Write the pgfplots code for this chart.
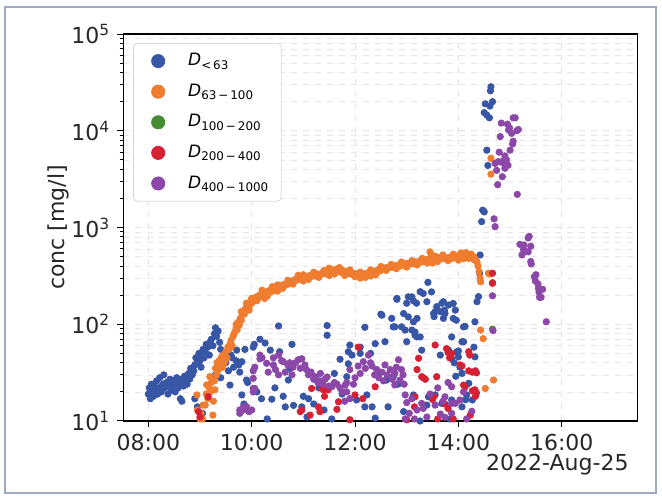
\documentclass[border=0pt]{standalone}
\usepackage{fontspec}
\setmainfont{DejaVu Sans}
\usepackage{pgfplots}
\pgfplotsset{compat=1.18}
\definecolor{cblue}{RGB}{56,86,166}
\definecolor{corange}{RGB}{240,124,48}
\definecolor{cgreen}{RGB}{70,140,50}
\definecolor{cred}{RGB}{214,32,52}
\definecolor{cpurple}{RGB}{140,72,168}
\definecolor{gridc}{RGB}{234,224,230}
\definecolor{framec}{RGB}{160,168,196}

\begin{document}
\begin{tikzpicture}
\path[use as bounding box] (0,0) rectangle (331pt,248.5pt);
\draw[framec, line width=0.7pt] (2.5pt,2pt) rectangle (328pt,245pt);
\begin{axis}[
    at={(61.65pt,38pt)}, anchor=south west,
    scale only axis, width=257.2pt, height=193.5pt,
    xmin=7.516, xmax=17.47,
    ymode=log, ymin=10, ymax=100000,
    xtick={8,10,12,14,16},
    xticklabels={08:00,10:00,12:00,14:00,16:00},
    ytick={10,100,1000,10000,100000},
    yticklabels={10\textsuperscript{1},10\textsuperscript{2},10\textsuperscript{3},10\textsuperscript{4},10\textsuperscript{5}},
    tick align=outside, xtick pos=left, ytick pos=left,
    major tick length=3pt, minor tick length=1.8pt,
    tick style={black, line width=0.5pt},
    axis line style={black, line width=0.6pt},
    xmajorgrids, ymajorgrids, yminorgrids,
    major grid style={gridc, dashed, line width=0.4pt},
    minor grid style={gridc!85, dashed, line width=0.3pt},
    tick label style={font=\fontsize{11}{13}\selectfont, text=black!85},
    ylabel={conc [mg/l]},
    ylabel style={at={(axis description cs:-0.127,0.5)}, anchor=center, font=\fontsize{11}{13}\selectfont, text=black!85},
    legend style={at={(0,1)}, anchor=north west, xshift=4.85pt, yshift=-4.5pt,
        draw={rgb,255:red,215;green,215;blue,215}, rounded corners=2pt,
        font=\fontsize{8.5}{10}\selectfont, row sep=3.6pt,
        inner xsep=4pt, inner ysep=3pt},
    legend cell align=left,
    legend image code/.code={\path (0pt,0pt) (21pt,0pt);
        \draw[#1, mark size=3.3pt] plot coordinates {(8.2pt,0pt)};},
    every axis plot/.append style={only marks, mark=*, mark size=1.6pt},
]
% D < 63
\addplot[cblue] coordinates {
(8.0,19) (8.02,22) (8.04,17) (8.06,24) (8.08,20) (8.1,18) (8.12,23) (8.14,21) (8.16,26) (8.18,19)
(8.2,22) (8.22,28) (8.25,20) (8.28,24) (8.3,30) (8.32,22) (8.35,25) (8.38,19) (8.4,23) (8.42,27)
(8.45,21) (8.48,26) (8.5,24) (8.52,20) (8.55,28) (8.58,22) (8.6,25) (8.62,17) (8.65,27) (8.68,23)
(8.7,29) (8.72,26) (8.75,24) (8.78,31) (8.8,27) (8.82,35) (8.85,30) (8.88,33) (8.9,38) (8.92,45)
(8.95,40) (8.98,50) (9.0,42) (9.02,36) (9.04,48) (9.06,55) (9.08,45) (9.1,52) (9.12,62) (9.15,58)
(9.18,48) (9.2,66) (9.22,70) (9.25,60) (9.28,80) (9.3,92) (9.32,75) (9.35,85) (9.38,65) (9.4,55)
(9.42,45) (8.65,16) (8.95,14) (9.05,12) (8.9,17) (9.3,30) (9.4,28)
(9.5,40) (9.55,33) (9.6,48) (9.62,45) (9.7,42) (9.75,38) (9.65,36) (9.58,23.5) (9.71,54) (9.81,18.6)
(9.85,15) (9.9,14) (9.92,25) (9.87,55) (9.81,41) (9.77,32) (9.9,26.5) (10.03,58) (10.05,62) (10.16,70)
(10.26,64) (10.36,54) (10.54,52) (10.52,96) (10.78,62) (10.1,20) (10.19,17) (10.39,16.8) (10.61,18) (10.81,14.5)
(11.0,18) (10.97,14) (10.3,10.5) (10.45,22) (10.65,14) (10.74,35) (10.71,26.5) (11.07,11) (11.46,97) (11.46,77)
(11.1,17) (11.2,15) (11.3,22) (11.4,13) (11.55,10.5) (11.6,31) (11.75,19) (11.71,43.5) (11.87,52) (11.84,28.7)
(11.87,39) (11.9,61) (11.94,48) (12.1,58) (12.1,50) (12.3,50) (12.19,93) (12.39,63) (12.58,66) (12.45,32)
(12.61,26.5) (12.19,14) (12.23,18.6) (12.33,14) (12.39,10.7) (12.03,16.5) (12.5,127) (12.52,124) (12.64,14) (12.71,115)
(12.74,28.7) (12.77,94) (12.74,94) (12.81,181) (12.81,185) (12.83,24) (12.9,94) (12.94,129) (12.94,12.5) (12.97,87)
(13.0,165) (13.0,66) (13.03,192) (13.03,119) (13.1,192) (13.1,87) (13.13,106) (13.13,175) (13.13,18.6) (13.16,77)
(13.16,83) (13.19,165) (13.2,74) (13.2,115) (13.26,217) (13.26,74) (13.26,10) (13.29,54) (13.32,208) (13.39,171)
(13.39,14.6) (13.41,271) (13.42,17.8) (13.48,216) (13.52,129) (13.53,120) (13.55,135) (13.55,18.6) (13.58,152) (13.65,135)
(13.65,48) (13.68,165) (13.68,15.2) (13.71,171) (13.71,115) (13.73,140) (13.74,129) (13.81,158) (13.81,54) (13.9,115)
(13.9,164) (13.94,140) (13.87,74) (13.87,44) (13.87,16.5) (13.84,10.5) (13.92,40) (13.95,29) (13.96,110) (13.97,52)
(14.0,53) (14.0,46) (14.03,36) (14.07,66) (14.07,31) (14.07,14) (14.1,94) (14.1,66) (14.13,95) (14.14,16.6)
(14.16,18.6) (14.2,24.5) (14.27,16.5) (14.3,58) (14.32,106) (14.32,46) (14.36,171) (14.39,193) (14.41,337) (14.42,520)
(14.45,1150) (14.47,1510) (14.5,1450) (14.5,15400) (14.52,19000) (14.55,14500) (14.55,6300) (14.57,4380) (14.6,13600) (14.61,18000)
(14.62,25900) (14.63,28500) (14.66,20000)
};
\addlegendentry{\textit{D}\textsubscript{<\,63}}
% D 63-100
\addplot[corange] coordinates {
(8.94,18.6) (8.95,13) (9.0,10.5) (9.02,12) (9.06,14.6) (9.1,14.6) (9.13,23.6) (9.15,17) (9.19,28.7) (9.2,20)
(9.22,25) (9.26,16) (9.29,21) (9.3,35) (9.32,30) (9.35,33.6) (9.37,42) (9.4,38) (9.42,46) (9.45,48)
(9.47,40) (9.5,52) (9.52,45) (9.54,58) (9.56,55) (9.58,62) (9.6,68) (9.62,60) (9.64,75) (9.66,80)
(9.68,84) (9.7,92) (9.72,88) (9.74,105) (9.76,98) (9.78,115) (9.8,110) (9.82,125) (9.84,135) (9.86,128)
(9.88,145) (9.9,150) (9.92,142) (9.94,160) (9.96,155) (9.98,170) (10.0,165) (10.03,180) (10.06,175) (10.09,192)
(10.12,185) (10.15,200) (10.18,195) (10.21,208) (10.24,200) (10.27,215) (10.3,210) (10.33,222) (10.36,215) (10.39,228)
(10.42,222) (10.45,235) (10.48,240) (10.51,232) (10.54,248) (10.57,242) (10.6,255) (10.63,250) (10.66,262) (10.69,258)
(10.72,270) (10.75,265) (10.78,280) (10.81,275) (10.84,290) (10.87,285) (10.9,298) (10.93,292) (10.96,305) (11.0,298)
(11.04,310) (11.08,305) (11.12,318) (11.16,312) (11.2,322) (11.24,315) (11.28,330) (11.32,325) (11.36,338) (11.4,332)
(11.44,345) (11.48,340) (11.52,355) (11.56,365) (11.6,350) (11.64,372) (11.68,358) (11.72,345) (11.76,360) (11.8,340)
(11.84,350) (11.88,335) (11.92,345) (11.96,325) (12.0,335) (12.04,318) (12.08,330) (12.12,312) (12.16,325) (12.2,335)
(12.24,322) (12.28,345) (12.32,338) (12.36,352) (12.4,345) (12.44,365) (12.48,355) (12.52,375) (12.56,368) (12.6,385)
(12.64,378) (12.68,395) (12.72,388) (12.76,402) (12.8,395) (12.84,410) (12.88,400) (12.92,418) (12.96,408) (13.0,425)
(13.04,415) (13.08,432) (13.12,422) (13.16,440) (13.2,430) (13.24,448) (13.28,438) (13.32,455) (13.36,445) (13.4,470)
(13.44,455) (13.48,520) (13.5,480) (13.54,462) (13.58,490) (13.62,470) (13.66,495) (13.7,478) (13.74,485) (13.78,468)
(13.82,492) (13.86,475) (13.9,500) (13.94,488) (13.98,510) (14.02,495) (14.06,515) (14.1,500) (14.14,520) (14.18,505)
(14.22,512) (14.26,490) (14.3,498) (14.33,470) (14.36,440) (14.38,400) (14.4,350) (14.42,300) (14.43,275)
(9.95,140) (10.25,185) (10.5,220) (11.0,280) (11.5,320) (12.1,300) (12.3,315) (13.0,390) (13.5,430) (14.0,460)
(9.6,58) (9.7,100) (9.8,135) (9.9,165) (10.0,185) (10.1,175) (10.2,225) (10.3,195) (10.4,245) (10.5,255)
(10.6,235) (10.7,285) (10.8,260) (10.9,320) (11.0,325) (11.1,290) (11.2,345) (11.3,305) (11.4,360) (11.5,380)
(11.6,330) (11.7,385) (11.8,320) (11.9,365) (12.0,310) (12.1,345) (12.2,305) (12.3,365) (12.4,325) (12.5,395)
(12.6,360) (12.7,415) (12.8,375) (12.9,440) (13.0,400) (13.1,455) (13.2,410) (13.3,480) (13.4,430) (13.45,560)
(13.55,505) (13.6,445) (13.7,520) (13.8,455) (13.9,530) (14.0,475) (14.05,545) (14.1,475) (14.15,550) (14.2,480)
(14.25,530) (14.3,465) (9.28,26) (9.33,40) (9.44,36) (9.5,44) (9.18,22) (9.12,19)
(9.05,10.5) (9.25,11.5) (14.43,87) (14.48,71) (14.52,21.7) (14.58,337) (14.6,330) (14.63,5190) (14.63,3560) (14.68,26.5)
};
\addlegendentry{\textit{D}\textsubscript{63\,−\,100}}
% D 100-200
\addplot[cgreen] coordinates {
(14.66,269) (14.66,89)
};
\addlegendentry{\textit{D}\textsubscript{100\,−\,200}}
% D 200-400
\addplot[cred] coordinates {
(8.97,12.5) (9.0,11) (9.16,17.8) (10.94,12.5) (10.97,13) (11.13,11.5) (11.16,21.7) (11.29,14) (11.32,12.5) (11.36,21.7)
(11.39,21) (11.41,18) (11.48,21) (11.65,13.2) (11.68,15.8) (12.0,18.6) (12.06,58) (12.15,17) (12.39,22.6) (13.15,14)
(13.16,17.8) (13.2,34) (13.23,44.5) (13.29,28.7) (13.32,28) (13.36,27) (13.5,16.7) (13.52,17.8) (13.55,61) (13.58,28.7)
(13.74,15) (13.77,56) (13.8,51) (13.8,13.5) (13.83,45) (13.87,50) (13.9,10.5) (14.03,38) (14.07,37) (14.1,23.5)
(14.13,22.5) (14.2,52) (14.2,33) (14.22,48) (14.23,11.5) (14.27,32) (14.27,20.5) (14.32,21) (14.33,33) (14.33,18)
(14.35,31.5) (14.35,19.5) (14.66,337) (14.66,265) (13.0,10.3) (13.6,10.5) (11.9,10.3)
};
\addlegendentry{\textit{D}\textsubscript{200\,−\,400}}
% D 400-1000
\addplot[cpurple] coordinates {
(9.77,12) (9.77,13) (9.84,13) (9.84,14) (9.9,14) (9.95,12.5) (10.0,13)
(10.03,33) (10.03,27.6) (10.03,20) (10.03,21.7) (10.06,36) (10.06,21.7) (10.16,48) (10.16,44) (10.2,45) (10.29,39.5)
(10.32,32) (10.42,38) (10.42,45) (10.46,34) (10.52,48) (10.52,30) (10.58,42) (10.61,41) (10.65,32) (10.7,38)
(10.74,40) (10.78,30) (10.8,36) (10.85,40) (10.9,43) (10.94,35) (10.97,44) (11.03,38) (11.06,34) (11.1,30)
(11.15,32) (11.2,27) (11.23,28.7) (11.28,25) (11.32,26) (11.33,31) (11.38,24) (11.42,27) (11.46,28.5) (11.5,23)
(11.55,22.6) (11.6,25) (11.65,24) (11.71,22) (11.75,20) (11.81,23.5) (11.84,25) (11.84,20) (11.9,17) (11.8,16)
(11.9,34) (11.97,24) (12.0,28) (12.06,37) (12.1,31) (12.16,41) (12.2,35) (12.26,48) (12.3,40) (12.33,37)
(12.38,30) (12.42,34) (12.46,28) (12.52,32) (12.55,26) (12.58,38) (12.62,30) (12.68,34) (12.72,27) (12.77,31)
(12.77,23.6) (12.8,36) (12.84,43) (12.87,26.5) (12.9,34) (12.93,30) (12.95,24) (12.97,18.6) (13.0,15.5) (13.05,12)
(13.1,17) (13.2,13) (13.29,15.2) (13.32,13.5) (13.39,11) (13.45,19) (13.55,14.6) (13.6,22) (13.65,11.8) (13.7,16)
(13.74,17.8) (13.74,10.9) (13.8,25) (13.87,15.2) (13.87,22.6) (13.87,12) (13.94,15.2) (14.03,16.5) (14.16,10.5) (14.26,12.6)
(14.1,20) (12.97,10.5) (13.15,10.5) (14.67,86)
(14.66,197) (14.69,1230) (14.71,1020) (14.71,4600) (14.74,3900) (14.76,2770) (14.77,4800) (14.79,6000) (14.81,8700) (14.83,12000)
(14.85,3350) (14.85,4700) (14.87,4900) (14.9,5500) (14.9,4100) (14.93,5000) (14.95,11700) (14.96,4400) (14.97,10200) (14.99,10700)
(15.0,6300) (15.03,9400) (15.05,7300) (15.06,7800) (15.06,13600) (15.1,13600) (15.13,10000) (15.16,10300) (15.14,2200)
(15.19,670) (15.23,520) (15.26,590) (15.27,660) (15.29,570) (15.35,780) (15.35,560) (15.37,810) (15.4,640) (15.4,445)
(15.41,420) (15.47,310) (15.49,280) (15.5,325) (15.54,260) (15.55,235) (15.56,215) (15.57,190) (15.58,225) (15.6,190)
(15.63,230) (15.7,106)
};
\addlegendentry{\textit{D}\textsubscript{400\,−\,1000}}
\end{axis}
\node[anchor=base east, font=\fontsize{11}{13}\selectfont, text=black!85] at (317.8pt,13.15pt) {2022-Aug-25};
\end{tikzpicture}
\end{document}
